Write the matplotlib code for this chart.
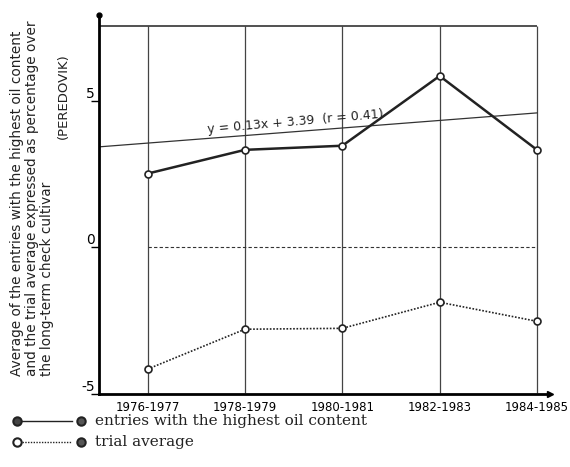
import matplotlib
matplotlib.use("Agg")
import matplotlib.pyplot as plt
from matplotlib.lines import Line2D

# data
periods = ['1976-1977', '1978-1979', '1980-1981', '1982-1983', '1984-1985']
highest_oil = [2.52, 3.33, 3.47, 5.85, 3.33]
trial_avg = [-4.15, -2.79, -2.76, -1.87, -2.52]
check_level = [0, 0, 0, 0, 0]
trend_start = 3.56   # drawn regression line at first period
trend_slope = 0.2575
trend_label = 'y = 0.13x + 3.39  (r = 0.41)'

x = list(range(len(periods)))

fig = plt.figure(figsize=(5.7, 4.67), dpi=100)
ax = fig.add_axes([99 / 570, 73 / 467, 451 / 570, 379 / 467])
ax.set_xlim(-0.5, 4.134)
ax.set_ylim(-4.97, 7.93)

for s in ['top', 'right']:
    ax.spines[s].set_visible(False)
for s in ['left', 'bottom']:
    ax.spines[s].set_linewidth(2.0)

# vertical grid at each period and the top frame line
ax.vlines(x, -4.97, 7.55, color='#444444', lw=0.9)
ax.hlines(7.55, -0.5, 4, color='#333333', lw=1.2)

# axis arrow heads
ax.plot(1, 0, '>', color='black', ms=5, transform=ax.transAxes, clip_on=False)
ax.plot(0, 1, 'o', color='black', ms=3.5, transform=ax.transAxes, clip_on=False)

# regression line across the whole frame
tx = [-0.5, 4]
ty = [trend_start + trend_slope * v for v in tx]
ax.plot(tx, ty, color='#333333', lw=0.9)
ax.text(1.52, trend_start + trend_slope * 1.52 + 0.33, trend_label, fontsize=9,
        rotation=5, ha='center', va='center', color='#222222')

ax.plot(x, check_level, color='#333333', lw=0.8, ls=(0, (3, 2)))
ax.plot(x, highest_oil, color='#222222', lw=1.8, marker='o', ms=5,
        mfc='white', mec='#222222', mew=1.2)
ax.plot(x, trial_avg, color='#222222', lw=1.2, ls=(0, (1, 1)), marker='o', ms=5,
        mfc='white', mec='#222222', mew=1.2)

ax.set_xticks(x)
ax.set_xticklabels(periods, fontsize=8.5)
ax.tick_params(axis='x', length=0, pad=5)
ax.set_yticks([-5, 0, 5])
ax.set_yticklabels(['-5', '0', '5'], fontsize=10, va='bottom')
ax.tick_params(axis='y', length=6, width=1, direction='out', pad=-3)

# y label, written in separate columns as in the original
ylab = ['Average of the entries with the highest oil content',
        'and the trial average expressed as percentage over',
        'the long-term check cultivar']
for i, t in enumerate(ylab):
    fig.text((17 + 15 * i) / 570, 1 - 376 / 467, t, rotation=90, fontsize=9.8,
             ha='center', va='bottom', color='#222222')
fig.text(63 / 570, 1 - 96 / 467, '(PEREDOVIK)', rotation=90, fontsize=9.5,
         ha='center', va='center', color='#222222')

# legend drawn by hand
leg = [('entries with the highest oil content', '-'),
       ('trial average', (0, (1, 1)))]
for i, (lab, ls) in enumerate(leg):
    yy = 1 - (421 + 21 * i) / 467
    fig.add_artist(Line2D([22 / 570, 72 / 570], [yy, yy], color='#222222', lw=1, ls=ls))
    fig.add_artist(Line2D([17 / 570], [yy], marker='o', ms=6, color='#222222',
                          mfc='#444444' if i == 0 else 'white', mew=1.5))
    fig.add_artist(Line2D([81 / 570], [yy], marker='o', ms=6, color='#222222',
                          mfc='#555555', mew=1.5))
    fig.text(95 / 570, yy, lab, fontsize=11, family='DejaVu Serif', va='center',
             color='#222222')

fig.savefig('out.png', dpi=100)
